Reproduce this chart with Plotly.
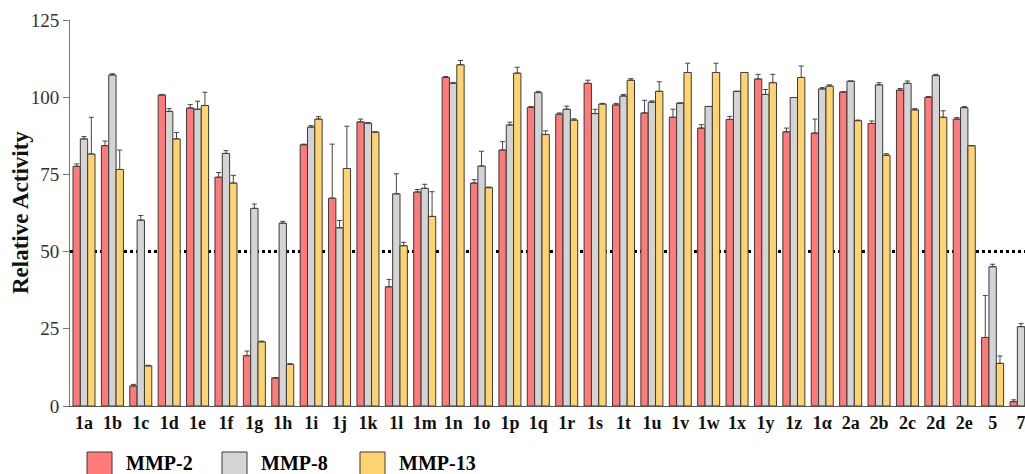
import plotly.graph_objects as go

categories = ['1a', '1b', '1c', '1d', '1e', '1f', '1g', '1h', '1i', '1j', '1k', '1l', '1m',
              '1n', '1o', '1p', '1q', '1r', '1s', '1t', '1u', '1v', '1w', '1x', '1y', '1z',
              '1α', '2a', '2b', '2c', '2d', '2e', '5', '7']

mmp2 = [77.6, 84.3, 6.5, 100.7, 96.5, 74.1, 16.3, 9.1, 84.6, 67.3, 92.0, 38.6, 69.3,
        106.4, 72.2, 82.9, 96.7, 94.5, 104.5, 97.5, 94.9, 93.5, 90.0, 92.8, 105.9, 88.8,
        88.4, 101.7, 91.5, 102.3, 100.0, 92.9, 22.2, 1.4]
mmp2_err = [0.8, 1.5, 0.5, 0.2, 1.1, 1.5, 1.5, 0, 0.2, 17.5, 0.9, 2.4, 0.8,
            0.3, 1.1, 2.7, 0.3, 0.4, 1.0, 0.5, 4.1, 2.6, 1.1, 1.0, 1.5, 1.2,
            4.5, 0, 0.8, 0.5, 0.2, 0.5, 13.6, 0.6]

mmp8 = [86.5, 107.2, 60.2, 95.4, 96.1, 81.8, 64.0, 59.2, 90.3, 57.7, 91.6, 68.7, 70.5,
        104.5, 77.7, 91.0, 101.5, 96.1, 94.7, 100.4, 98.4, 98.1, 97.0, 101.9, 100.9, 99.9,
        102.7, 105.2, 104.0, 104.5, 107.0, 96.6, 45.1, 25.7]
mmp8_err = [0.75, 0.4, 1.5, 0.9, 2.6, 0.9, 1.4, 0.6, 0.5, 2.4, 0.2, 6.5, 1.3,
            0.3, 4.8, 0.9, 0.4, 1.0, 1.4, 0.5, 0.4, 0, 0, 0, 1.6, 0,
            0.4, 0, 0.7, 0.75, 0.4, 0.4, 0.8, 1.0]

mmp13 = [81.6, 76.6, 13.0, 86.5, 97.3, 72.2, 20.8, 13.5, 92.9, 76.9, 88.7, 51.9, 61.4,
         110.5, 70.7, 107.8, 87.9, 92.6, 97.8, 105.5, 101.9, 108.0, 108.0, 108.0, 104.7, 106.4,
         103.6, 92.4, 81.2, 95.9, 93.5, 84.3, 13.8, None]
mmp13_err = [11.9, 6.3, 0.2, 2.1, 4.3, 2.5, 0.2, 0.2, 0.8, 13.7, 0, 1.1, 8.0,
             1.4, 0.2, 1.9, 1.2, 0.4, 0.2, 0.5, 3.1, 3.0, 3.0, 0, 2.7, 3.7,
             0.4, 0.2, 0.5, 0.4, 2.1, 0, 2.4, None]

series_names = ['MMP-2', 'MMP-8', 'MMP-13']
y_ticks = [0, 25, 50, 75, 100, 125]
y_title = 'Relative Activity'
threshold = 50

colors = ['#FF7A78', '#D4D4D4', '#FFD470']
FONT = 'Liberation Serif'

W, H = 1025, 474
ML, MR, MT, MB = 70, 0, 20, 68
PW, PH = W - ML - MR, H - MT - MB


def px(x):
    return (x - ML) / PW


def py(y):
    return (H - MB - y) / PH


fig = go.Figure()
for name, vals, errs, col in zip(series_names, [mmp2, mmp8, mmp13],
                                 [mmp2_err, mmp8_err, mmp13_err], colors):
    fig.add_trace(go.Bar(
        x=categories, y=vals, name=name,
        marker=dict(color=col, line=dict(color='#3a3a3a', width=1)),
        error_y=dict(type='data', array=errs, arrayminus=[0] * len(errs),
                     symmetric=False, color='#444444', thickness=1, width=2.5),
        showlegend=False,
    ))

# threshold dotted line (behind bars)
fig.add_shape(type='line', xref='paper', yref='y', x0=0, x1=1, y0=threshold, y1=threshold,
              line=dict(color='black', width=3, dash='dot'), layer='below')

# y-axis title
fig.add_annotation(xref='paper', yref='paper', x=px(20), y=py(213), text='<b>%s</b>' % y_title,
                   textangle=-90, showarrow=False, xanchor='center', yanchor='middle',
                   font=dict(family=FONT, size=23, color='#111111'))

# manual legend
leg_boxes = [(87, 112), (222, 247), (360, 385)]
leg_text_x = [124, 259, 397]
for (x0, x1), tx, name, col in zip(leg_boxes, leg_text_x, series_names, colors):
    fig.add_shape(type='rect', xref='paper', yref='paper',
                  x0=px(x0), x1=px(x1), y0=py(452), y1=py(480),
                  fillcolor=col, line=dict(color='#3a3a3a', width=1))
    fig.add_annotation(xref='paper', yref='paper', x=px(tx), y=py(463),
                       text='<b>%s</b>' % name, showarrow=False, xanchor='left',
                       yanchor='middle', font=dict(family=FONT, size=20, color='black'))

fig.update_layout(
    width=W, height=H,
    margin=dict(l=ML, r=MR, t=MT, b=MB, autoexpand=False),
    barmode='group', bargap=0.225, bargroupgap=0,
    plot_bgcolor='white', paper_bgcolor='white',
    font=dict(family=FONT, color='#222222'),
    xaxis=dict(
        type='category', range=[-0.493, 33.14], automargin=False,
        tickvals=categories, ticktext=['<b>%s</b>' % c for c in categories],
        tickfont=dict(family=FONT, size=18, color='#111111'),
        showline=True, linecolor='#555555', linewidth=1,
        ticks='', showgrid=False, zeroline=False,
    ),
    yaxis=dict(
        range=[0, 125], tickvals=y_ticks, automargin=False,
        tickfont=dict(family=FONT, size=19, color='#333333'),
        showline=True, linecolor='#777777', linewidth=1,
        ticks='outside', ticklen=6, tickcolor='#777777',
        showgrid=False, zeroline=False,
    ),
)

fig.write_html('out.html', config={'displayModeBar': False},
               post_script="document.body.style.margin='0';document.body.style.overflow='hidden';")
